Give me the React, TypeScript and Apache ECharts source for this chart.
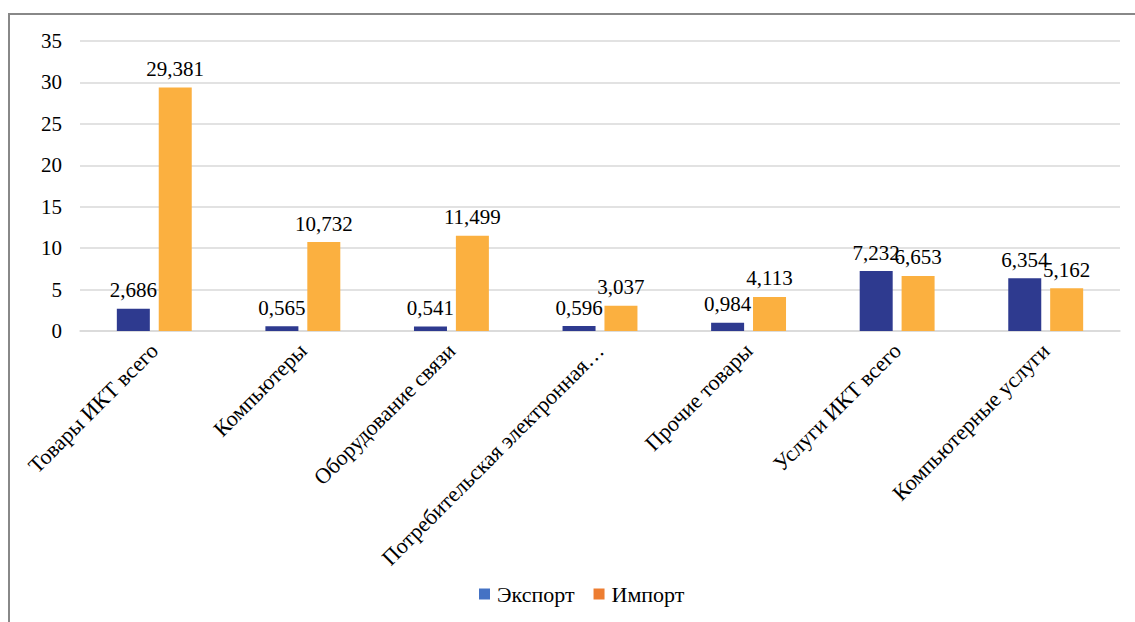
import React, { useEffect, useRef } from "react";
import * as echarts from "echarts";

const categories = [
  "Товары ИКТ всего",
  "Компьютеры",
  "Оборудование связи",
  "Потребительская электронная…",
  "Прочие товары",
  "Услуги ИКТ всего",
  "Компьютерные услуги",
];
const exportValues = [2.686, 0.565, 0.541, 0.596, 0.984, 7.232, 6.354];
const importValues = [29.381, 10.732, 11.499, 3.037, 4.113, 6.653, 5.162];

const FONT = "Liberation Serif";
const fmt = (v: number) => v.toFixed(3).replace(".", ",");

export default function App() {
  const ref = useRef<HTMLDivElement>(null);
  useEffect(() => {
    if (!ref.current) return;
    const chart = echarts.init(ref.current, null, { renderer: "svg" });
    const labelStyle = {
      show: true,
      position: "top",
      distance: 8,
      fontFamily: FONT,
      fontSize: 21,
      color: "#000",
      formatter: (p: any) => fmt(p.value),
    };
    chart.setOption({
      animation: false,
      backgroundColor: "#fff",
      textStyle: { fontFamily: FONT },
      graphic: [
        {
          type: "rect",
          shape: { x: 9, y: 14, width: 1135, height: 620 },
          style: { fill: "none", stroke: "#888", lineWidth: 2 },
          silent: true,
        },
      ],
      grid: { left: 80, right: 15, top: 41, bottom: 291 },
      legend: {
        bottom: 12,
        left: 474,
        icon: "rect",
        itemWidth: 11,
        itemHeight: 11,
        itemGap: 19,
        textStyle: { fontFamily: FONT, fontSize: 22, color: "#000", padding: [0, 0, 0, 2] },
        data: [
          { name: "Экспорт", itemStyle: { color: "#4472C4" } },
          { name: "Импорт", itemStyle: { color: "#ED7D31" } },
        ],
      },
      xAxis: {
        type: "category",
        data: categories,
        axisLine: { lineStyle: { color: "#d9d9d9", width: 1.5 } },
        axisTick: { show: false },
        axisLabel: {
          rotate: 45,
          interval: 0,
          margin: 16,
          fontFamily: FONT,
          fontSize: 22,
          color: "#000",
        },
      },
      yAxis: {
        type: "value",
        min: 0,
        max: 35,
        interval: 5,
        axisLine: { show: false },
        axisTick: { show: false },
        splitLine: { lineStyle: { color: "#d9d9d9", width: 1.5 } },
        axisLabel: { margin: 18, fontFamily: FONT, fontSize: 21, color: "#000" },
      },
      series: [
        {
          name: "Экспорт",
          type: "bar",
          data: exportValues,
          barWidth: 33,
          barGap: "27%",
          itemStyle: { color: "#2E3A8F" },
          label: labelStyle,
        },
        {
          name: "Импорт",
          type: "bar",
          data: importValues,
          barWidth: 33,
          itemStyle: { color: "#FBB040" },
          label: labelStyle,
        },
      ],
    });
    return () => chart.dispose();
  }, []);
  return (
    <div
      ref={ref}
      style={{ position: "fixed", left: 0, top: 0, width: 1135, height: 622 }}
    />
  );
}
